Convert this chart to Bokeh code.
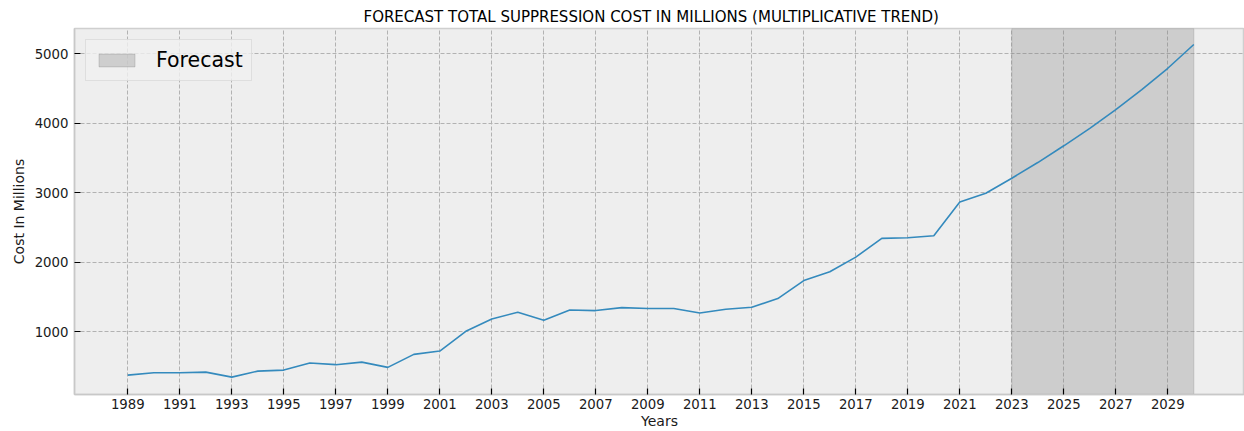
from bokeh.plotting import figure
from bokeh.models import Range1d, FixedTicker, Legend, LegendItem, ColumnDataSource
from bokeh.embed import file_html
from bokeh.resources import INLINE

# Total suppression cost (millions), actuals through 2022 then multiplicative-trend forecast
years = [1989, 1990, 1991, 1992, 1993, 1994, 1995, 1996, 1997, 1998, 1999, 2000,
         2001, 2002, 2003, 2004, 2005, 2006, 2007, 2008, 2009, 2010, 2011, 2012,
         2013, 2014, 2015, 2016, 2017, 2018, 2019, 2020, 2021, 2022, 2023, 2024,
         2025, 2026, 2027, 2028, 2029, 2030]
cost = [380, 414, 414, 423, 351, 437, 452, 553, 530, 567, 491, 678,
        726, 1010, 1188, 1284, 1169, 1317, 1308, 1351, 1337, 1337, 1274, 1327,
        1356, 1481, 1740, 1866, 2077, 2347, 2356, 2385, 2871, 2996, 3212, 3437,
        3678, 3928, 4198, 4486, 4793, 5135]

forecast_start = [2023]
forecast_end = [2030]

x_ticks = [1989, 1991, 1993, 1995, 1997, 1999, 2001, 2003, 2005, 2007, 2009,
           2011, 2013, 2015, 2017, 2019, 2021, 2023, 2025, 2027, 2029]
y_ticks = [1000, 2000, 3000, 4000, 5000]

X_START, X_END = 1986.95, 2031.95
Y_START, Y_END = 101, 5365

FONT = "DejaVu Sans"

p = figure(width=1244, height=431, output_backend="svg", toolbar_location=None,
           x_range=Range1d(X_START, X_END), y_range=Range1d(Y_START, Y_END),
           min_border_left=74, min_border_right=0, min_border_top=28,
           min_border_bottom=0)

p.background_fill_color = "#eeeeee"
p.border_fill_color = "white"
p.outline_line_color = "#cfcfcf"
p.outline_line_width = 1.5

p.title.text = "FORECAST TOTAL SUPPRESSION COST IN MILLIONS (MULTIPLICATIVE TREND)"
p.title.align = "left"
p.title.offset = 289
p.title.text_font = FONT
p.title.text_font_size = "15px"
p.title.text_font_style = "normal"
p.title.text_color = "black"
p.title.standoff = 6

# shaded forecast window
span = p.quad(left=forecast_start, right=forecast_end, bottom=[Y_START], top=[Y_END],
              fill_color="grey", fill_alpha=0.3, line_color="grey", line_alpha=0.3,
              line_width=1)

src = ColumnDataSource(dict(year=years, cost=cost))
p.line("year", "cost", source=src, line_color="#348ABD", line_width=1.6)

for ax in (p.xaxis[0], p.yaxis[0]):
    ax.axis_line_color = "#c8c8c8"
    ax.axis_line_width = 1.5
    ax.major_tick_in = 6
    ax.major_tick_out = 0
    ax.major_tick_line_color = "black"
    ax.major_tick_line_width = 1.2
    ax.minor_tick_line_color = None
    ax.major_label_text_font = FONT
    ax.major_label_text_font_size = "13.3px"
    ax.major_label_text_color = "#1a1a1a"
    ax.axis_label_text_font = FONT
    ax.axis_label_text_font_size = "14px"
    ax.axis_label_text_font_style = "normal"
    ax.axis_label_text_color = "#1a1a1a"

p.xaxis.ticker = FixedTicker(ticks=x_ticks)
p.yaxis.ticker = FixedTicker(ticks=y_ticks)
p.xaxis.axis_label = "Years"
p.yaxis.axis_label = "Cost In Millions"
p.xaxis.major_label_standoff = 4
p.xaxis.axis_label_standoff = 1
p.yaxis.major_label_standoff = 6
p.yaxis.axis_label_standoff = 5

for g in (p.xgrid[0], p.ygrid[0]):
    g.grid_line_color = "#b2b2b2"
    g.grid_line_dash = "4 2"
    g.grid_line_width = 1
p.xgrid.ticker = FixedTicker(ticks=x_ticks)
p.ygrid.ticker = FixedTicker(ticks=y_ticks)

legend = Legend(items=[LegendItem(label="Forecast", renderers=[span])],
                location="top_left", margin=11, padding=8,
                glyph_width=45, glyph_height=16, label_height=24,
                label_standoff=17, spacing=0,
                label_text_font=FONT, label_text_font_size="20.5px",
                label_text_color="black",
                background_fill_color="#f0f0f0", background_fill_alpha=0.8,
                border_line_color="#cccccc", border_line_width=1)
p.add_layout(legend)

open("out.html", "w").write(file_html(p, INLINE))
